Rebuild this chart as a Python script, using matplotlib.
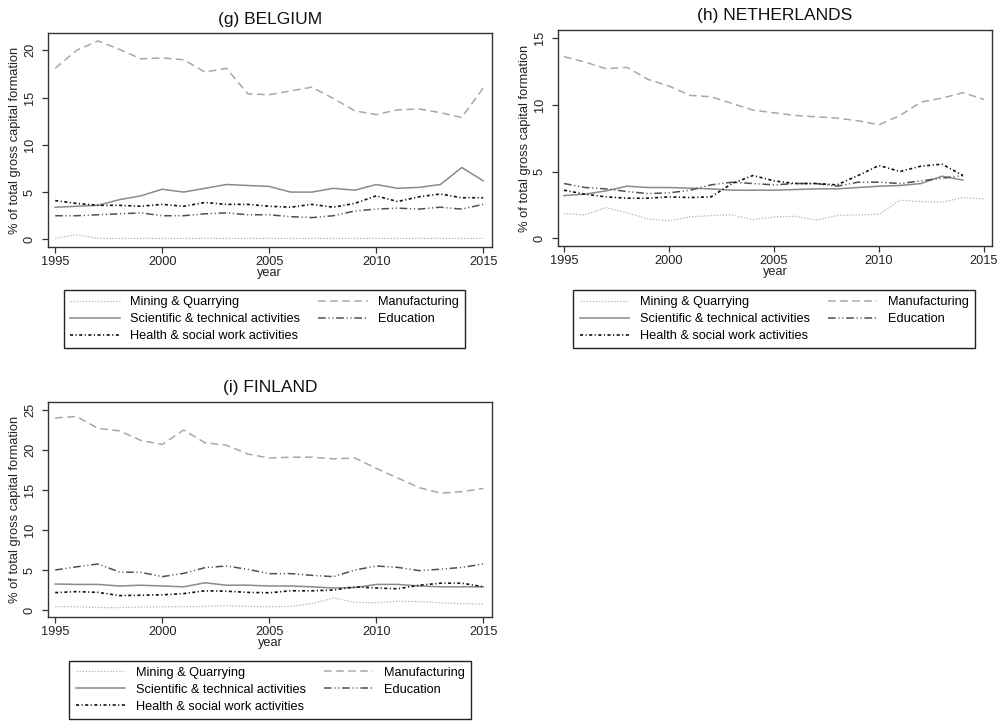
import matplotlib
matplotlib.use("Agg")
import matplotlib.pyplot as plt

plt.rcParams['font.family'] = ['Liberation Sans', 'DejaVu Sans']
plt.rcParams['lines.scale_dashes'] = False

years = list(range(1995, 2016))
years_nl_short = list(range(1995, 2015))

series_names = ["Mining & Quarrying", "Manufacturing", "Scientific & technical activities",
                "Education", "Health & social work activities"]

# Belgium
be_mining = [0.1, 0.5, 0.1, 0.1, 0.1, 0.1, 0.1, 0.1, 0.1, 0.1, 0.1, 0.1, 0.1, 0.1, 0.1, 0.1, 0.1, 0.1, 0.1, 0.1, 0.1]
be_manuf = [18.1, 20.0, 21.0, 20.1, 19.1, 19.2, 19.0, 17.7, 18.1, 15.4, 15.3, 15.7, 16.1, 14.9, 13.6, 13.2, 13.7, 13.8, 13.4, 12.9, 16.0]
be_sci = [3.4, 3.5, 3.6, 4.2, 4.6, 5.3, 5.0, 5.4, 5.8, 5.7, 5.6, 5.0, 5.0, 5.4, 5.2, 5.8, 5.4, 5.5, 5.8, 7.6, 6.2]
be_edu = [2.5, 2.5, 2.6, 2.7, 2.8, 2.5, 2.5, 2.7, 2.8, 2.6, 2.6, 2.4, 2.3, 2.5, 3.0, 3.2, 3.3, 3.2, 3.4, 3.2, 3.7]
be_health = [4.1, 3.8, 3.6, 3.6, 3.5, 3.7, 3.5, 3.9, 3.7, 3.7, 3.5, 3.4, 3.7, 3.4, 3.8, 4.6, 4.0, 4.5, 4.8, 4.4, 4.4]

# Netherlands
nl_mining = [1.85, 1.75, 2.3, 1.9, 1.45, 1.3, 1.6, 1.7, 1.75, 1.4, 1.6, 1.65, 1.35, 1.7, 1.75, 1.8, 2.85, 2.75, 2.7, 3.05, 2.95]
nl_manuf = [13.6, 13.2, 12.7, 12.8, 11.9, 11.4, 10.7, 10.6, 10.1, 9.6, 9.4, 9.2, 9.1, 9.0, 8.8, 8.5, 9.2, 10.2, 10.5, 10.9, 10.4]
nl_sci = [3.2, 3.3, 3.55, 3.9, 3.8, 3.8, 3.75, 3.7, 3.6, 3.6, 3.6, 3.65, 3.7, 3.7, 3.8, 3.9, 3.95, 4.1, 4.65, 4.35]
nl_edu = [4.1, 3.8, 3.7, 3.5, 3.35, 3.4, 3.6, 4.0, 4.2, 4.1, 4.0, 4.1, 4.1, 3.9, 4.2, 4.2, 4.1, 4.3, 4.5, 4.7]
nl_health = [3.6, 3.3, 3.1, 3.0, 3.0, 3.1, 3.05, 3.1, 4.1, 4.7, 4.3, 4.1, 4.1, 4.0, 4.7, 5.45, 5.0, 5.4, 5.55, 4.7]

# Finland
fi_mining = [0.42, 0.4, 0.3, 0.3, 0.35, 0.4, 0.4, 0.45, 0.55, 0.45, 0.4, 0.45, 0.8, 1.5, 0.95, 0.9, 1.1, 1.05, 0.9, 0.8, 0.75]
fi_manuf = [24.0, 24.2, 22.7, 22.4, 21.2, 20.7, 22.5, 20.9, 20.6, 19.5, 19.0, 19.1, 19.1, 18.9, 19.0, 17.7, 16.5, 15.3, 14.6, 14.8, 15.2]
fi_sci = [3.25, 3.2, 3.2, 3.0, 3.1, 3.0, 2.9, 3.4, 3.1, 3.1, 3.0, 3.0, 2.9, 2.75, 2.8, 3.2, 3.2, 3.0, 2.9, 2.9, 2.9]
fi_edu = [5.0, 5.4, 5.75, 4.75, 4.7, 4.17, 4.58, 5.3, 5.5, 5.08, 4.54, 4.55, 4.33, 4.17, 5.0, 5.5, 5.33, 4.92, 5.1, 5.33, 5.75]
fi_health = [2.17, 2.3, 2.2, 1.8, 1.85, 1.9, 2.05, 2.4, 2.35, 2.2, 2.15, 2.4, 2.4, 2.5, 2.9, 2.75, 2.65, 3.1, 3.35, 3.35, 2.9]

styles = {
    "Mining & Quarrying": dict(color="#b8b8b8", lw=0.9, dashes=(1, 1.2)),
    "Manufacturing": dict(color="#a8a8a8", lw=1.1, dashes=(5.5, 3.2)),
    "Scientific & technical activities": dict(color="#8a8a8a", lw=1.1),
    "Education": dict(color="#505050", lw=1.1, dashes=(5.5, 2, 0.8, 2, 0.8, 2)),
    "Health & social work activities": dict(color="#111111", lw=1.2, dashes=(2.2, 1.8, 0.8, 1.8)),
}

W, H = 1007, 723
fig = plt.figure(figsize=(W / 100, H / 100), dpi=100)


def px_axes(left, top, right, bottom):
    return fig.add_axes([left / W, 1 - bottom / H, (right - left) / W, (bottom - top) / H])


panels = [
    dict(title="(g) BELGIUM", box=(47.7, 33.3, 491.7, 247), xlim=(1994.65, 2015.4), ylim=(-0.81, 21.8),
         yticks=[0, 5, 10, 15, 20],
         data=[(years, be_mining), (years, be_manuf), (years, be_sci), (years, be_edu), (years, be_health)],
         leg=(264.5, 290)),
    dict(title="(h) NETHERLANDS", box=(557.7, 30, 992, 246), xlim=(1994.7, 2015.38), ylim=(-0.58, 15.6),
         yticks=[0, 5, 10, 15],
         data=[(years, nl_mining), (years, nl_manuf), (years_nl_short, nl_sci),
               (years_nl_short, nl_edu), (years_nl_short, nl_health)],
         leg=(774, 290)),
    dict(title="(i) FINLAND", box=(47.7, 401.7, 492, 617), xlim=(1994.65, 2015.4), ylim=(-0.875, 26.04),
         yticks=[0, 5, 10, 15, 20, 25],
         data=[(years, fi_mining), (years, fi_manuf), (years, fi_sci), (years, fi_edu), (years, fi_health)],
         leg=(270, 660.5)),
]

for p in panels:
    ax = px_axes(*p["box"])
    handles = {}
    for name, (xs, ys) in zip(series_names, p["data"]):
        st = dict(styles[name])
        kw = dict(color=st["color"], lw=st["lw"])
        line, = ax.plot(xs, ys, **kw)
        if "dashes" in st:
            line.set_dashes(st["dashes"])
        handles[name] = line
    ax.set_xlim(*p["xlim"])
    ax.set_ylim(*p["ylim"])
    ax.set_xticks([1995, 2000, 2005, 2010, 2015])
    ax.set_yticks(p["yticks"])
    ax.tick_params(axis="both", labelsize=9.2, length=4.5, width=0.9, color="#333333", labelcolor="#222222")
    ax.tick_params(axis="x", pad=2)
    ax.tick_params(axis="y", pad=4)
    for lab in ax.get_yticklabels():
        lab.set_rotation(90)
        lab.set_va("center")
    for sp in ax.spines.values():
        sp.set_color("#333333")
        sp.set_linewidth(1.0)
    ax.set_xlabel("year", fontsize=9.2, labelpad=-1, color="#222222")
    ax.set_ylabel("% of total gross capital formation", fontsize=9.3, labelpad=2, color="#222222")
    ax.set_title(p["title"], fontsize=12.5, pad=7, color="#111111")
    order = ["Mining & Quarrying", "Scientific & technical activities", "Health & social work activities",
             "Manufacturing", "Education"]
    lx, ly = p["leg"]
    leg = fig.legend([handles[n] for n in order], order, ncol=2, loc="upper center",
                     bbox_to_anchor=(lx / W, 1 - ly / H), bbox_transform=fig.transFigure,
                     fontsize=9.2, frameon=True, fancybox=False, framealpha=1,
                     handlelength=3.9, handletextpad=0.8, columnspacing=1.4,
                     labelspacing=0.38, borderpad=0.5, borderaxespad=0)
    leg.get_frame().set_edgecolor("#222222")
    leg.get_frame().set_linewidth(1.0)

fig.savefig("out.png", dpi=100, facecolor="white")
